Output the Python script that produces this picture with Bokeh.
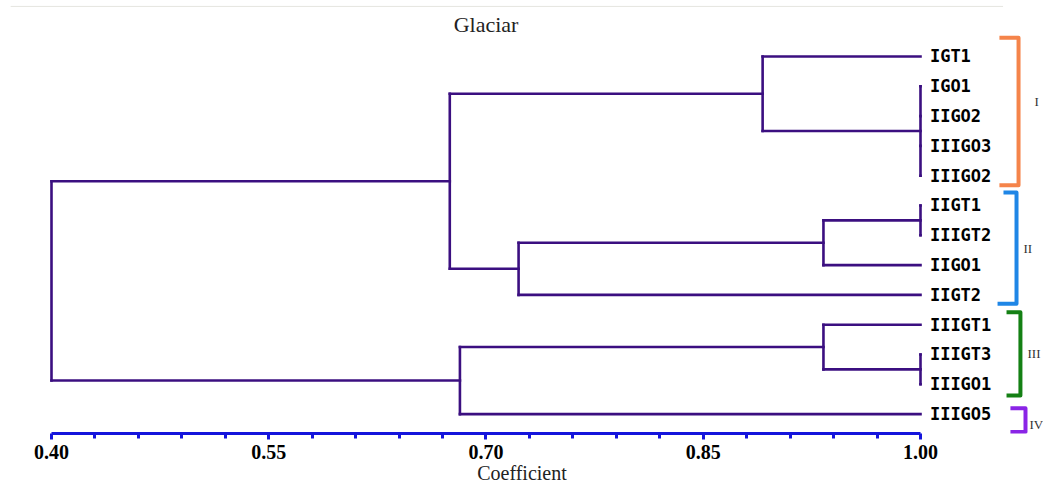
from bokeh.plotting import figure
from bokeh.models import Range1d, FixedTicker, Label, ColumnDataSource
from bokeh.core.properties import value
from bokeh.embed import file_html
from bokeh.resources import INLINE

# ---------------- data ----------------
leaves = ["IGT1", "IGO1", "IIGO2", "IIIGO3", "IIIGO2", "IIGT1", "IIIGT2",
          "IIGO1", "IIGT2", "IIIGT1", "IIIGT3", "IIIGO1", "IIIGO5"]
leaf_coef = 1.00

node_names = ["A", "B", "C", "D", "E", "F", "G", "H", "J", "Root"]
node_children = [
    ["IGO1", "IIGO2", "IIIGO3", "IIIGO2"],
    ["IGT1", "A"],
    ["IIGT1", "IIIGT2"],
    ["C", "IIGO1"],
    ["D", "IIGT2"],
    ["B", "E"],
    ["IIIGT3", "IIIGO1"],
    ["IIIGT1", "G"],
    ["H", "IIIGO5"],
    ["F", "J"],
]
node_coef = [1.00, 0.891, 1.00, 0.933, 0.7225, 0.675, 1.00, 0.933, 0.682, 0.40]

group_labels = ["I", "II", "III", "IV"]
group_first = ["IGT1", "IIGT1", "IIIGT1", "IIIGO5"]
group_last = ["IIIGO2", "IIGT2", "IIIGO1", "IIIGO5"]
group_colors = ["#f5844a", "#1f86e6", "#148014", "#8a24e6"]

tick_values = [0.40, 0.55, 0.70, 0.85, 1.00]
tick_labels = ["0.40", "0.55", "0.70", "0.85", "1.00"]
minor_values = [0.43, 0.46, 0.49, 0.52, 0.58, 0.61, 0.64, 0.67,
                0.73, 0.76, 0.79, 0.82, 0.88, 0.91, 0.94, 0.97]

title_text = "Glaciar"
xlabel_text = "Coefficient"

# ---------------- geometry ----------------
pos = {name: i for i, name in enumerate(leaves)}
coef = {name: leaf_coef for name in leaves}
for n, ch, c in zip(node_names, node_children, node_coef):
    coef[n] = c

def position(n):
    if n in pos:
        return pos[n]
    ch = node_children[node_names.index(n)]
    ps = [position(c) for c in ch]
    pos[n] = (min(ps) + max(ps)) / 2.0
    return pos[n]

for n in node_names:
    position(n)

xs, ys = [], []
for n, ch in zip(node_names, node_children):
    c = coef[n]
    ps = [pos[k] for k in ch]
    xs.append([c, c]); ys.append([min(ps), max(ps)])
    for k in ch:
        xs.append([c, coef[k]]); ys.append([pos[k], pos[k]])

LINE = "#3b0f80"
p = figure(width=1043, height=488, output_backend="svg", toolbar_location=None,
           x_range=Range1d(0.36479, 1.08493), y_range=Range1d(12.651, -1.879),
           y_axis_type=None, min_border_left=0, min_border_right=0,
           min_border_top=0, min_border_bottom=55,
           background_fill_color="white", border_fill_color="white")
p.outline_line_color = None
p.xgrid.visible = False
p.ygrid.visible = False

# faint rule at the top
p.line([0.3718, 1.0570], [-1.68, -1.68], line_color="#e6e6e0", line_width=1)

p.multi_line(xs, ys, line_color=LINE, line_width=2.6, line_cap="square")

# leaf labels
src = ColumnDataSource(dict(x=[leaf_coef + 0.0065] * len(leaves),
                            y=[pos[l] for l in leaves], t=leaves))
p.text("x", "y", text="t", source=src, text_font=value("DejaVu Sans Mono"),
       text_font_style="bold", text_font_size="17px", text_baseline="middle",
       text_align="left", text_color="black")

# brackets (style: x of spine, x of arms, padding)
br_spine = [1.0677, 1.0663, 1.0690, 1.0725]
br_arm_top = [1.0545, 1.0573, 1.0594, 1.0621]
br_arm_bot = [1.0545, 1.0532, 1.0594, 1.0621]
br_pad_top = [0.63, 0.44, 0.42, 0.20]
br_pad_bot = [0.32, 0.30, 0.38, 0.60]
lab_x = [1.0787, 1.0711, 1.0739, 1.0752]
lab_dy = [-0.35, 0.0, 0.0, 0.15]
for i, g in enumerate(group_labels):
    y0 = pos[group_first[i]] - br_pad_top[i]
    y1 = pos[group_last[i]] + br_pad_bot[i]
    p.line([br_arm_top[i], br_spine[i], br_spine[i], br_arm_bot[i]],
           [y0, y0, y1, y1], line_color=group_colors[i], line_width=4,
           line_join="round")
    p.add_layout(Label(x=lab_x[i], y=(y0 + y1) / 2 + lab_dy[i], text=g,
                       text_font="Liberation Serif", text_font_size="13px",
                       text_baseline="middle", text_align="left",
                       text_color="#333333"))

# title
p.add_layout(Label(x=0.70, y=-1.06, text=title_text, text_font="Liberation Serif",
                   text_font_size="22px", text_align="center",
                   text_baseline="middle", text_color="#222222"))

# axis
AX = "#1414dc"
ax = p.xaxis[0]
ax.bounds = (0.40, 1.00)
ax.ticker = FixedTicker(ticks=tick_values, minor_ticks=minor_values)
ax.major_label_overrides = {v: t for v, t in zip(tick_values, tick_labels)}
ax.axis_line_color = AX
ax.axis_line_width = 3
ax.major_tick_line_color = AX
ax.major_tick_line_width = 3
ax.major_tick_in = 0
ax.major_tick_out = 6
ax.minor_tick_line_color = AX
ax.minor_tick_line_width = 3
ax.minor_tick_in = 0
ax.minor_tick_out = 5
ax.major_label_text_font = "Liberation Serif"
ax.major_label_text_font_style = "bold"
ax.major_label_text_font_size = "20px"
ax.major_label_text_color = "black"
ax.major_label_standoff = 5
ax.axis_label = xlabel_text
ax.axis_label_text_font = "Liberation Serif"
ax.axis_label_text_font_style = "normal"
ax.axis_label_text_font_size = "20px"
ax.axis_label_text_color = "#222222"
ax.axis_label_standoff = 0

open("out.html", "w").write(file_html(p, INLINE))
